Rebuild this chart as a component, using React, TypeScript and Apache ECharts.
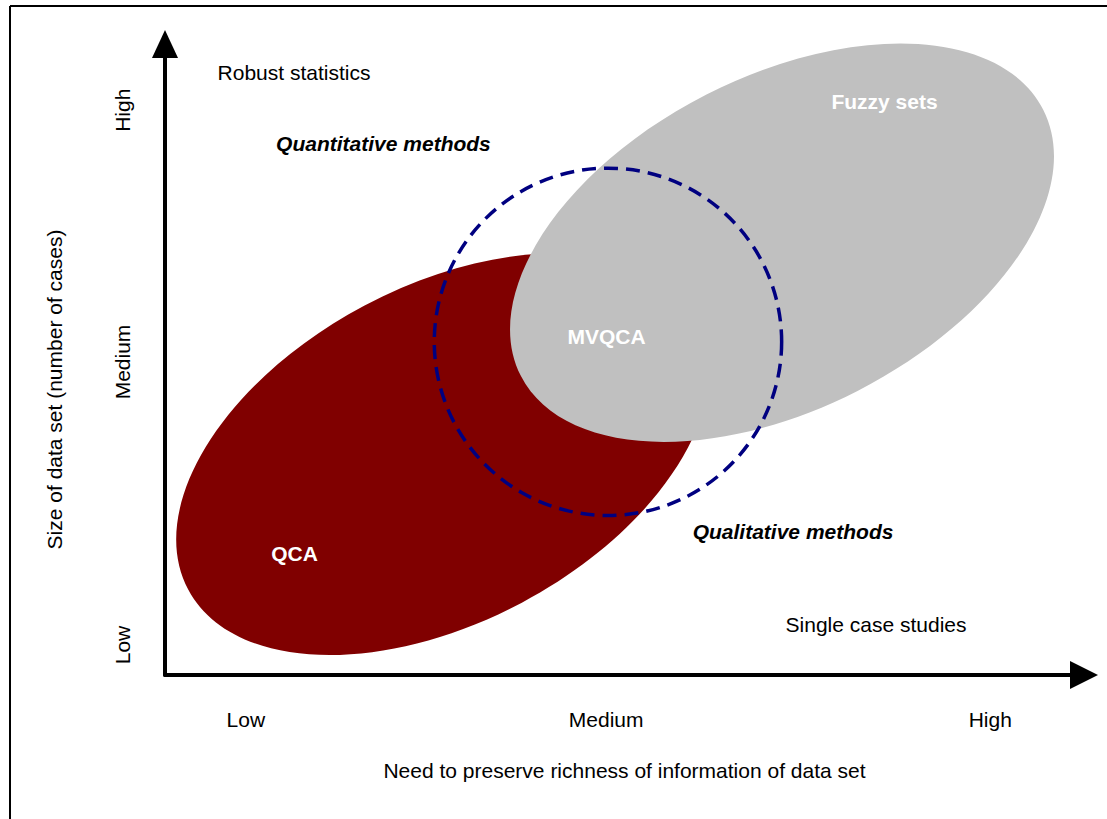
import { useEffect, useRef } from "react";
import * as echarts from "echarts";

// Axis tick labels (positions in axis units, 0–100)
const xTickLabels = ["Low", "Medium", "High"];
const xTickValues = [8.8, 48.0, 89.8];
const yTickLabels = ["Low", "Medium", "High"];
const yTickValues = [4.75, 49.6, 89.5];

const xAxisTitle = "Need to preserve richness of information of data set";
const yAxisTitle = "Size of data set (number of cases)";

// Method regions (ellipses): centre in axis units, semi-axes in x-axis units, tilt in degrees
const regionNames = ["QCA", "Fuzzy sets"];
const regionCenterX = [30.25, 67.14];
const regionCenterY = [35.0, 68.5];
const regionSemiMajor = [31.4, 31.9];
const regionSemiMinor = [18.3, 18.1];
const regionTilt = [28, 27];
const regionColors = ["#800000", "#C0C0C0"];

// MVQCA dashed circle
const mvqcaCenterX = [48.2];
const mvqcaCenterY = [52.8];
const mvqcaRadius = [18.9];

// Annotations
const noteTexts = [
  "Robust statistics",
  "Quantitative methods",
  "Fuzzy sets",
  "MVQCA",
  "QCA",
  "Qualitative methods",
  "Single case studies",
];
const noteX = [14.04, 23.77, 78.29, 48.05, 14.09, 68.34, 77.37];
const noteY = [95.56, 84.31, 90.81, 53.57, 19.33, 22.82, 8.08];
const noteKind = ["plain", "italic", "white", "white", "white", "italic", "plain"];

const FONT = "'Liberation Sans', Arial, Helvetica, sans-serif";

function nearestLabel(values: number[], labels: string[], v: number) {
  let best = 0;
  for (let i = 1; i < values.length; i++) {
    if (Math.abs(values[i] - v) < Math.abs(values[best] - v)) best = i;
  }
  return labels[best];
}

export default function App() {
  const ref = useRef<HTMLDivElement>(null);

  useEffect(() => {
    if (!ref.current) return;
    const chart = echarts.init(ref.current, undefined, { renderer: "svg" });

    const regionData = regionNames.map((n, i) => ({
      name: n,
      value: [regionCenterX[i], regionCenterY[i], regionSemiMajor[i], regionSemiMinor[i], regionTilt[i]],
      itemStyle: { color: regionColors[i] },
    }));

    const circleData = mvqcaCenterX.map((x, i) => [x, mvqcaCenterY[i], mvqcaRadius[i]]);

    const noteData = noteTexts.map((t, i) => {
      const k = noteKind[i];
      return {
        name: t,
        value: [noteX[i], noteY[i]],
        label: {
          show: true,
          position: "inside",
          formatter: t,
          fontFamily: FONT,
          fontSize: 21,
          opacity: 1,
          color: k === "white" ? "#ffffff" : "#000000",
          fontWeight: k === "plain" ? "normal" : "bold",
          fontStyle: k === "italic" ? "italic" : "normal",
        },
      };
    });

    chart.setOption({
      animation: false,
      backgroundColor: "#ffffff",
      grid: { left: 165, right: 23, top: 44, bottom: 144, containLabel: false },
      xAxis: {
        type: "value",
        min: 0,
        max: 100,
        splitLine: { show: false },
        axisTick: { show: false },
        axisLine: {
          show: true,
          onZero: false,
          lineStyle: { color: "#000", width: 4 },
          symbol: ["none", "triangle"],
          symbolSize: [28, 28],
        },
        axisLabel: {
          customValues: xTickValues,
          formatter: (v: number) => nearestLabel(xTickValues, xTickLabels, v),
          margin: 34,
          fontSize: 21,
          color: "#000",
          fontFamily: FONT,
        },
        name: xAxisTitle,
        nameLocation: "middle",
        nameGap: 85,
        nameTextStyle: { fontSize: 21, color: "#000", fontFamily: FONT },
      },
      yAxis: {
        type: "value",
        min: 0,
        max: 100,
        splitLine: { show: false },
        axisTick: { show: false },
        axisLine: {
          show: true,
          onZero: false,
          lineStyle: { color: "#000", width: 4 },
          symbol: ["none", "triangle"],
          symbolSize: [26, 28],
        },
        axisLabel: {
          customValues: yTickValues,
          formatter: (v: number) => nearestLabel(yTickValues, yTickLabels, v),
          rotate: 90,
          margin: 32,
          fontSize: 21,
          color: "#000",
          fontFamily: FONT,
        },
        name: yAxisTitle,
        nameLocation: "middle",
        nameGap: 100,
        nameTextStyle: { fontSize: 21, color: "#000", fontFamily: FONT, padding: [0, 60, 0, 0] },
      },
      graphic: [
        { type: "line", shape: { x1: 10, y1: 6, x2: 1107, y2: 6 }, style: { stroke: "#000", lineWidth: 2 } },
        { type: "line", shape: { x1: 10, y1: 6, x2: 10, y2: 819 }, style: { stroke: "#000", lineWidth: 2 } },
      ],
      series: [
        {
          type: "custom",
          name: "regions",
          clip: false,
          data: regionData,
          renderItem: (params: any, api: any) => {
            const c = api.coord([api.value(0), api.value(1)]);
            const s = api.size([1, 1]);
            return {
              type: "ellipse",
              x: c[0],
              y: c[1],
              rotation: (api.value(4) * Math.PI) / 180,
              shape: { cx: 0, cy: 0, rx: api.value(2) * s[0], ry: api.value(3) * s[0] },
              style: { fill: api.visual("color") },
            };
          },
        },
        {
          type: "custom",
          name: "MVQCA",
          clip: false,
          data: circleData,
          renderItem: (params: any, api: any) => {
            const c = api.coord([api.value(0), api.value(1)]);
            const s = api.size([1, 1]);
            return {
              type: "circle",
              shape: { cx: c[0], cy: c[1], r: api.value(2) * s[0] },
              style: { fill: "none", stroke: "#000080", lineWidth: 3.5, lineDash: [14, 8] },
            };
          },
        },
        {
          type: "scatter",
          name: "notes",
          symbolSize: 1,
          itemStyle: { color: "rgba(0,0,0,0)", opacity: 1 },
          emphasis: { disabled: true },
          data: noteData,
          z: 10,
        },
      ],
    });

    return () => chart.dispose();
  }, []);

  return (
    <div
      ref={ref}
      style={{ position: "fixed", left: 0, top: 0, width: 1107, height: 819, background: "#fff" }}
    />
  );
}
